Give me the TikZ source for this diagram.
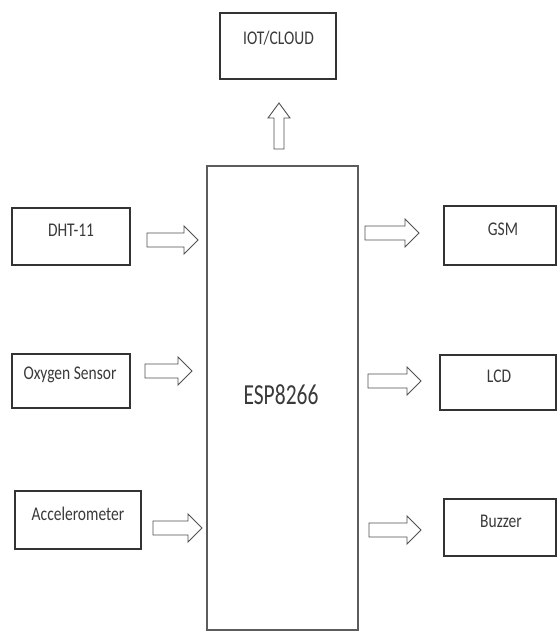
\documentclass[tikz,border=0pt]{standalone}
\usepackage{fontspec}
\setmainfont{Carlito}
\usepackage{graphicx}
\usetikzlibrary{calc}
\definecolor{ink}{HTML}{333333}
\definecolor{arr}{HTML}{505050}
\definecolor{txtc}{HTML}{3A3A3A}
\tikzset{
  box/.style={draw=ink, line width=1.3pt, inner sep=0pt, fill=white},
  mainbox/.style={draw=ink!80, line width=1.6pt, inner sep=0pt, fill=white},
  lbl/.style={inner sep=0pt, text=txtc, font=\fontsize{15.5}{18}\selectfont},
  mainlbl/.style={inner sep=0pt, text=txtc, font=\fontsize{21.5}{24}\selectfont},
  blk/.style={draw=arr, line width=0.9pt, fill=white, line join=miter}
}
% horizontal block arrow pointing right, from #1 (tail) to #2 (tip)
\newcommand{\rblock}[2]{%
  \draw[blk] let \p1=(#1), \p2=(#2) in
    (\x1,{\y1+7pt}) -- ({\x2-14pt},{\y1+7pt}) -- ({\x2-14pt},{\y1+14pt}) --
    (\x2,\y1) -- ({\x2-14pt},{\y1-14pt}) -- ({\x2-14pt},{\y1-7pt}) --
    (\x1,{\y1-7pt}) -- cycle;}
% vertical block arrow pointing up, from #1 (tail) to #2 (tip)
\newcommand{\ublock}[2]{%
  \draw[blk] let \p1=(#1), \p2=(#2) in
    ({\x1-5pt},\y1) -- ({\x1-5pt},{\y2-15pt}) -- ({\x1-11pt},{\y2-15pt}) --
    (\x1,\y2) -- ({\x1+11pt},{\y2-15pt}) -- ({\x1+5pt},{\y2-15pt}) --
    ({\x1+5pt},\y1) -- cycle;}
\begin{document}
\begin{tikzpicture}[x=1pt, y=-1pt]
  \useasboundingbox[fill=white] (0,0) rectangle (557,632);

  % boxes
  \node[box, minimum width=116pt, minimum height=66pt] (iot) at (278,46) {};
  \node[mainbox, minimum width=151pt, minimum height=464pt] (esp) at (282.5,398) {};
  \node[box, minimum width=118pt, minimum height=57pt] (dht) at (71,236.5) {};
  \node[box, minimum width=118pt, minimum height=54pt] (oxy) at (71,381) {};
  \node[box, minimum width=126pt, minimum height=58pt] (acc) at (78,520) {};
  \node[box, minimum width=112pt, minimum height=59pt] (gsm) at (500,235.5) {};
  \node[box, minimum width=116pt, minimum height=55pt] (lcd) at (498,382.5) {};
  \node[box, minimum width=112pt, minimum height=57pt] (buz) at (500,527.5) {};

  % texts
  \node[lbl] (iott) at ($(iot.center)+(0.5,-8)$) {\scalebox{1}[1.25]{IOT/CLOUD}};
  \node[mainlbl] (espt) at ($(esp.center)+(-1.5,-3)$) {\scalebox{1}[1.35]{ESP8266}};
  \node[lbl] (dhtt) at ($(dht.center)+(0,-6.5)$) {\scalebox{1}[1.25]{DHT-11}};
  \node[lbl] (oxyt) at ($(oxy.center)+(-1,-6)$) {\scalebox{1}[1.25]{Oxygen Sensor}};
  \node[lbl] (acct) at ($(acc.center)+(0,-6)$) {\scalebox{1}[1.25]{Accelerometer}};
  \node[lbl] (gsmt) at ($(gsm.center)+(3,-6.5)$) {\scalebox{1}[1.25]{GSM}};
  \node[lbl] (lcdt) at ($(lcd.center)+(1,-6.5)$) {\scalebox{1}[1.25]{LCD}};
  \node[lbl] (buzt) at ($(buz.center)+(1,-6.5)$) {\scalebox{1}[1.25]{Buzzer}};

  % arrow end points
  \coordinate (a1s) at (147,240);  \coordinate (a1e) at (198,240);
  \coordinate (a2s) at (145,371);  \coordinate (a2e) at (192,371);
  \coordinate (a3s) at (153,528);  \coordinate (a3e) at (202,528);
  \coordinate (b1s) at (365,233);  \coordinate (b1e) at (419,233);
  \coordinate (b2s) at (368,381);  \coordinate (b2e) at (421,381);
  \coordinate (b3s) at (369,530);  \coordinate (b3e) at (421,530);
  \coordinate (us) at (279,149);   \coordinate (ue) at (279,103);

  % block arrows
  \rblock{a1s}{a1e}
  \rblock{a2s}{a2e}
  \rblock{a3s}{a3e}
  \rblock{b1s}{b1e}
  \rblock{b2s}{b2e}
  \rblock{b3s}{b3e}
  \ublock{us}{ue}
\end{tikzpicture}
\end{document}
